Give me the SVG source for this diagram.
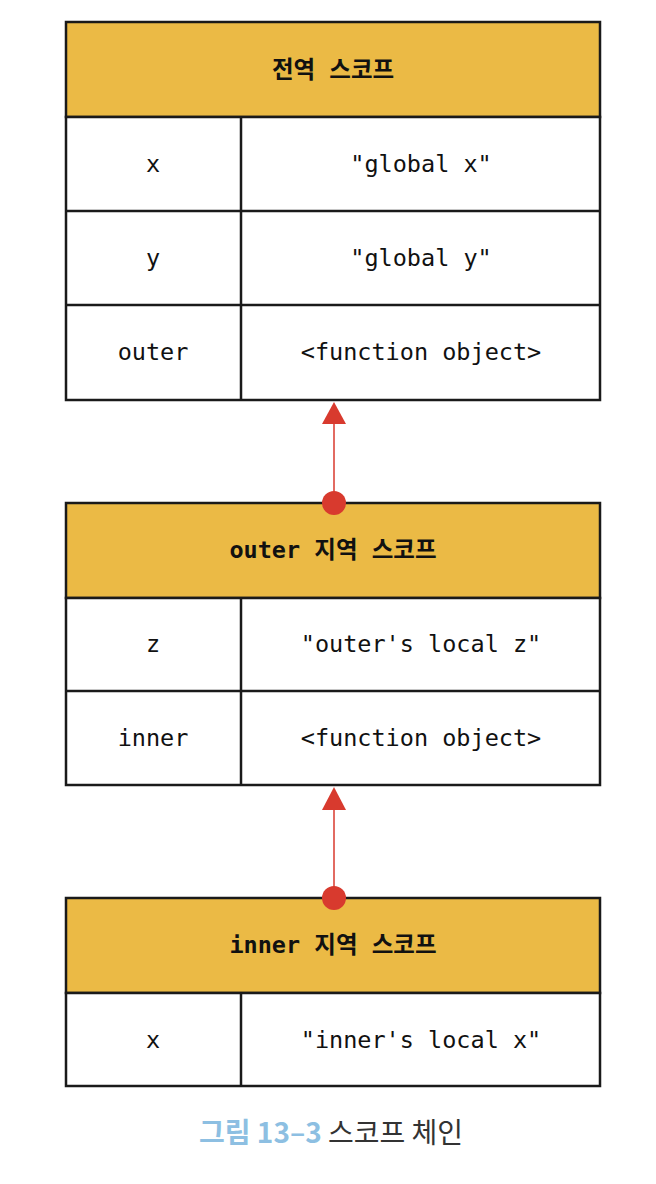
<svg xmlns="http://www.w3.org/2000/svg" width="656" height="1184" viewBox="0 0 656 1184">
<style>
.hdr{fill:#ebba45;stroke:#1a1a1a;stroke-width:2.5}
.cell{fill:#fff;stroke:#1a1a1a;stroke-width:2.5}
.div{stroke:#1a1a1a;stroke-width:2.5}
.t{font-family:"DejaVu Sans Mono","Noto Sans CJK KR",monospace;font-size:23.5px;fill:#111;text-anchor:middle}
.h{font-family:"DejaVu Sans Mono","Noto Sans CJK KR",monospace;font-size:23.5px;font-weight:bold;fill:#111;text-anchor:middle}
.conn{stroke:#d83a2e;stroke-width:1.5;fill:none}
.dot{fill:#d83a2e}
</style>
<g id="global-scope">
<rect class="hdr" x="66" y="22" width="534" height="95"/>
<rect class="cell" x="66" y="117" width="534" height="283"/>
<line class="div" x1="66" y1="211" x2="600" y2="211"/>
<line class="div" x1="66" y1="305" x2="600" y2="305"/>
<line class="div" x1="241" y1="117" x2="241" y2="400"/>
<text class="h" x="333" y="78">전역 스코프</text>
<text class="t" x="153" y="172">x</text>
<text class="t" x="421" y="172">"global x"</text>
<text class="t" x="153" y="266">y</text>
<text class="t" x="421" y="266">"global y"</text>
<text class="t" x="153" y="360">outer</text>
<text class="t" x="421" y="360">&lt;function object&gt;</text>
</g>
<g id="outer-scope">
<rect class="hdr" x="66" y="503" width="534" height="95"/>
<rect class="cell" x="66" y="598" width="534" height="187"/>
<line class="div" x1="66" y1="691" x2="600" y2="691"/>
<line class="div" x1="241" y1="598" x2="241" y2="785"/>
<text class="h" x="333" y="558">outer 지역 스코프</text>
<text class="t" x="153" y="652">z</text>
<text class="t" x="421" y="652">"outer's local z"</text>
<text class="t" x="153" y="746">inner</text>
<text class="t" x="421" y="746">&lt;function object&gt;</text>
</g>
<g id="inner-scope">
<rect class="hdr" x="66" y="898" width="534" height="95"/>
<rect class="cell" x="66" y="993" width="534" height="93"/>
<line class="div" x1="241" y1="993" x2="241" y2="1086"/>
<text class="h" x="333" y="953">inner 지역 스코프</text>
<text class="t" x="153" y="1048">x</text>
<text class="t" x="421" y="1048">"inner's local x"</text>
</g>
<g id="connectors">
<line class="conn" x1="334" y1="422" x2="334" y2="503"/>
<polygon class="dot" points="334,402 346,424 322,424"/>
<circle class="dot" cx="334" cy="503" r="12"/>
<line class="conn" x1="334" y1="808" x2="334" y2="898"/>
<polygon class="dot" points="334,787 346,810 322,810"/>
<circle class="dot" cx="334" cy="898" r="12"/>
</g>
<text x="331" y="1143" font-family="'Noto Sans CJK KR',sans-serif" font-size="28" text-anchor="middle"><tspan fill="#8dbfe2" font-weight="bold">그림 13–3</tspan><tspan fill="#333"> 스코프 체인</tspan></text>
</svg>
